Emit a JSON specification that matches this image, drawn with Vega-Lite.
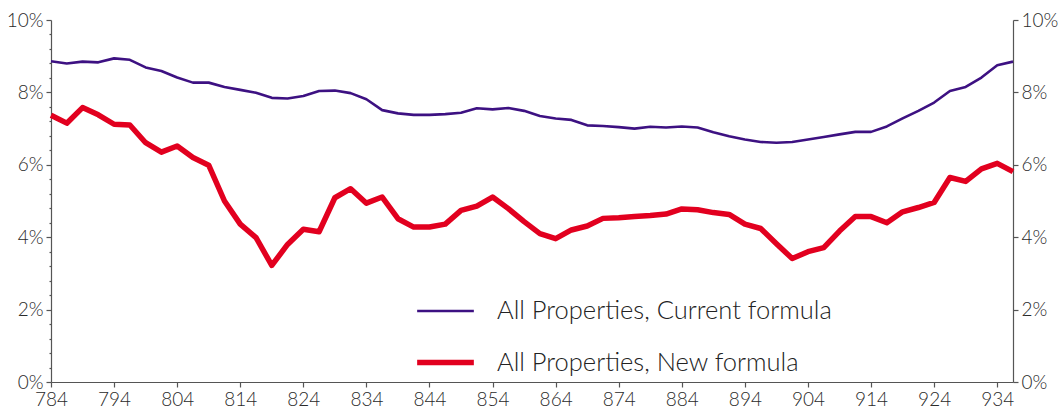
{
  "$schema": "https://vega.github.io/schema/vega-lite/v6.json",
  "width": 962,
  "height": 362,
  "autosize": "none",
  "padding": {"left": 51, "top": 20, "right": 45, "bottom": 33},
  "config": {
    "view": {"stroke": null},
    "font": "Lato",
    "axis": {
      "labelFont": "Lato",
      "labelFontWeight": 300,
      "labelFontSize": 19,
      "labelColor": "#2a2a2a",
      "domainColor": "#555555",
      "tickColor": "#555555",
      "domainWidth": 1.2,
      "tickWidth": 1.2,
      "grid": false,
      "title": null
    },
    "legend": {
      "orient": "none",
      "legendX": 363,
      "legendY": 261,
      "title": null,
      "symbolType": "stroke",
      "symbolSize": 3215,
      "labelFont": "Lato",
      "labelFontWeight": 300,
      "labelFontSize": 25.5,
      "labelColor": "#222222",
      "labelOffset": 20,
      "labelLimit": 0,
      "rowPadding": 6,
      "padding": 0,
      "offset": 0
    }
  },
  "data": {
    "values": [
      {"x": 784, "cur": 8.86, "new": 7.37},
      {"x": 786.5, "cur": 8.80, "new": 7.15},
      {"x": 789, "cur": 8.85, "new": 7.58},
      {"x": 791.5, "cur": 8.83, "new": 7.38},
      {"x": 794, "cur": 8.94, "new": 7.12},
      {"x": 796.5, "cur": 8.90, "new": 7.10},
      {"x": 799, "cur": 8.69, "new": 6.61},
      {"x": 801.5, "cur": 8.59, "new": 6.35},
      {"x": 804, "cur": 8.41, "new": 6.52},
      {"x": 806.5, "cur": 8.27, "new": 6.20},
      {"x": 809, "cur": 8.27, "new": 5.99},
      {"x": 811.5, "cur": 8.15, "new": 5.00},
      {"x": 814, "cur": 8.07, "new": 4.36},
      {"x": 816.5, "cur": 7.99, "new": 3.99},
      {"x": 819, "cur": 7.85, "new": 3.22},
      {"x": 821.5, "cur": 7.83, "new": 3.80},
      {"x": 824, "cur": 7.90, "new": 4.22},
      {"x": 826.5, "cur": 8.04, "new": 4.15},
      {"x": 829, "cur": 8.05, "new": 5.09},
      {"x": 831.5, "cur": 7.98, "new": 5.34},
      {"x": 834, "cur": 7.81, "new": 4.94},
      {"x": 836.5, "cur": 7.51, "new": 5.11},
      {"x": 839, "cur": 7.42, "new": 4.51},
      {"x": 841.5, "cur": 7.38, "new": 4.28},
      {"x": 844, "cur": 7.38, "new": 4.28},
      {"x": 846.5, "cur": 7.40, "new": 4.36},
      {"x": 849, "cur": 7.44, "new": 4.74},
      {"x": 851.5, "cur": 7.56, "new": 4.86},
      {"x": 854, "cur": 7.53, "new": 5.11},
      {"x": 856.5, "cur": 7.57, "new": 4.79},
      {"x": 859, "cur": 7.49, "new": 4.43},
      {"x": 861.5, "cur": 7.35, "new": 4.10},
      {"x": 864, "cur": 7.28, "new": 3.96},
      {"x": 866.5, "cur": 7.24, "new": 4.20},
      {"x": 869, "cur": 7.09, "new": 4.31},
      {"x": 871.5, "cur": 7.07, "new": 4.52},
      {"x": 874, "cur": 7.04, "new": 4.54},
      {"x": 876.5, "cur": 7.00, "new": 4.57},
      {"x": 879, "cur": 7.05, "new": 4.60},
      {"x": 881.5, "cur": 7.03, "new": 4.64},
      {"x": 884, "cur": 7.06, "new": 4.78},
      {"x": 886.5, "cur": 7.03, "new": 4.76},
      {"x": 889, "cur": 6.90, "new": 4.68},
      {"x": 891.5, "cur": 6.79, "new": 4.63},
      {"x": 894, "cur": 6.70, "new": 4.36},
      {"x": 896.5, "cur": 6.63, "new": 4.24},
      {"x": 899, "cur": 6.61, "new": 3.82},
      {"x": 901.5, "cur": 6.63, "new": 3.41},
      {"x": 904, "cur": 6.70, "new": 3.60},
      {"x": 906.5, "cur": 6.77, "new": 3.71},
      {"x": 909, "cur": 6.84, "new": 4.17},
      {"x": 911.5, "cur": 6.91, "new": 4.57},
      {"x": 914, "cur": 6.91, "new": 4.57},
      {"x": 916.5, "cur": 7.06, "new": 4.40},
      {"x": 919, "cur": 7.28, "new": 4.70},
      {"x": 921.5, "cur": 7.49, "new": 4.82},
      {"x": 924, "cur": 7.72, "new": 4.96},
      {"x": 926.5, "cur": 8.04, "new": 5.65},
      {"x": 929, "cur": 8.15, "new": 5.54},
      {"x": 931.5, "cur": 8.41, "new": 5.89},
      {"x": 934, "cur": 8.75, "new": 6.04},
      {"x": 936.5, "cur": 8.85, "new": 5.81}
    ]
  },
  "transform": [
    {"fold": ["cur", "new"], "as": ["key", "value"]},
    {"lookup": "key", "from": {"data": {"values": [
      {"key": "cur", "series": "All Properties, Current formula"},
      {"key": "new", "series": "All Properties, New formula"}
    ]}, "key": "key", "fields": ["series"]}}
  ],
  "layer": [
    {
      "mark": {"type": "line", "strokeJoin": "round"},
      "encoding": {
        "x": {
          "field": "x", "type": "quantitative",
          "scale": {"domain": [784, 936.5], "nice": false, "zero": false},
          "axis": {"values": [784, 794, 804, 814, 824, 834, 844, 854, 864, 874, 884, 894, 904, 914, 924, 934], "tickSize": 5, "labelPadding": 3, "labelFlush": false}
        },
        "y": {
          "field": "value", "type": "quantitative",
          "scale": {"domain": [0, 10], "nice": false},
          "axis": {"orient": "left", "values": [0, 2, 4, 6, 8, 10], "labelExpr": "datum.value + '%'", "tickSize": 5, "labelPadding": 3}
        },
        "color": {
          "field": "series", "type": "nominal",
          "scale": {"domain": ["All Properties, Current formula", "All Properties, New formula"], "range": ["#3d1182", "#e2001f"]}
        },
        "strokeWidth": {
          "field": "series", "type": "nominal",
          "scale": {"domain": ["All Properties, Current formula", "All Properties, New formula"], "range": [2.6, 5.5]}
        }
      }
    },
    {
      "mark": {"type": "line", "strokeOpacity": 0},
      "encoding": {
        "x": {
          "field": "x", "type": "quantitative",
          "scale": {"domain": [784, 936.5], "nice": false, "zero": false},
          "axis": {"values": [784, 794, 804, 814, 824, 834, 844, 854, 864, 874, 884, 894, 904, 914, 924, 934], "tickSize": 5, "labelPadding": 3, "labelFlush": false}
        },
        "y": {
          "field": "value", "type": "quantitative",
          "scale": {"domain": [0, 10], "nice": false},
          "axis": {"orient": "left", "values": [0.4, 0.8, 1.2, 1.6, 2.4, 2.8, 3.2, 3.6, 4.4, 4.8, 5.2, 5.6, 6.4, 6.8, 7.2, 7.6, 8.4, 8.8, 9.2, 9.6], "labels": false, "tickSize": 2, "domain": false}
        },
        "detail": {"field": "series"}
      }
    },
    {
      "mark": {"type": "line", "strokeOpacity": 0},
      "encoding": {
        "x": {
          "field": "x", "type": "quantitative",
          "scale": {"domain": [784, 936.5], "nice": false, "zero": false},
          "axis": {"values": [784, 794, 804, 814, 824, 834, 844, 854, 864, 874, 884, 894, 904, 914, 924, 934], "tickSize": 5, "labelPadding": 3, "labelFlush": false}
        },
        "y": {
          "field": "value", "type": "quantitative",
          "scale": {"domain": [0, 10], "nice": false},
          "axis": {"orient": "right", "values": [0, 2, 4, 6, 8, 10], "labelExpr": "datum.value + '%'", "tickSize": 5, "labelPadding": 3}
        },
        "detail": {"field": "series"}
      }
    }
  ],
  "resolve": {"axis": {"y": "independent"}}
}
